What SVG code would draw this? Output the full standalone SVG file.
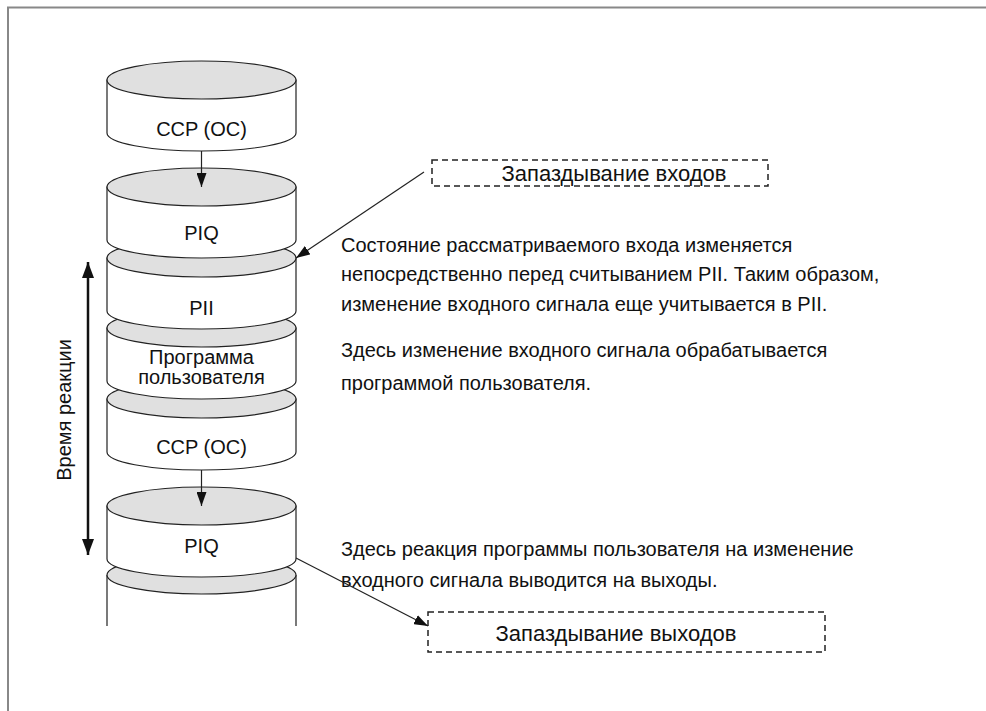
<svg xmlns="http://www.w3.org/2000/svg" width="986" height="711" viewBox="0 0 986 711">
<style>
text{font-family:"Liberation Sans",Arial,sans-serif;font-size:20px;fill:#111}
.c{text-anchor:middle}
.bx{font-size:22px;text-anchor:middle}
.body{fill:#fff;stroke:#222;stroke-width:1.2}
.top{fill:#e0e0e0;stroke:#222;stroke-width:1.2}
.side{fill:none;stroke:#222;stroke-width:1.2}
.dash{fill:none;stroke:#222;stroke-width:1.5;stroke-dasharray:6,4}
.ln{fill:none;stroke:#222;stroke-width:1.2}
</style>
<defs>
<marker id="ah" viewBox="0 0 14 10" refX="14" refY="5" markerWidth="14" markerHeight="10" markerUnits="userSpaceOnUse" orient="auto"><path d="M0,0 L14,5 L0,10 Z" fill="#111"/></marker>
<marker id="ahb" viewBox="0 0 16 12" refX="16" refY="6" markerWidth="16" markerHeight="12" markerUnits="userSpaceOnUse" orient="auto-start-reverse"><path d="M0,0 L16,6 L0,12 Z" fill="#111"/></marker>
</defs>
<rect width="986" height="711" fill="#fff"/>
<path d="M8,711 L8,7.5 L986,7.5" fill="none" stroke="#888" stroke-width="2"/>

<g id="cyl7">
<path class="side" d="M107,575 L107,626 M296,575 L296,626"/>
<ellipse class="top" cx="201.5" cy="575" rx="94.5" ry="19"/>
</g>
<g id="cyl6">
<path class="body" d="M107,506 L107,559 A94.5,18 0 0 0 296,559 L296,506 Z"/>
<ellipse class="top" cx="201.5" cy="506" rx="94.5" ry="19"/>
<text class="c" x="201.5" y="553">PIQ</text>
</g>
<g id="cyl5">
<path class="body" d="M107,399 L107,452 A94.5,18 0 0 0 296,452 L296,399 Z"/>
<ellipse class="top" cx="201.5" cy="399" rx="94.5" ry="19"/>
<text class="c" x="201.5" y="454">CCP (OC)</text>
</g>
<g id="cyl4">
<path class="body" d="M107,328 L107,381 A94.5,18 0 0 0 296,381 L296,328 Z"/>
<ellipse class="top" cx="201.5" cy="328" rx="94.5" ry="19"/>
<text class="c" x="201.5" y="364">Программа</text>
<text class="c" x="201.5" y="384">пользователя</text>
</g>
<g id="cyl3">
<path class="body" d="M107,258 L107,311 A94.5,18 0 0 0 296,311 L296,258 Z"/>
<ellipse class="top" cx="201.5" cy="258" rx="94.5" ry="19"/>
<text class="c" x="201.5" y="315">PII</text>
</g>
<g id="cyl2">
<path class="body" d="M107,187 L107,240 A94.5,18 0 0 0 296,240 L296,187 Z"/>
<ellipse class="top" cx="201.5" cy="187" rx="94.5" ry="19"/>
<text class="c" x="201.5" y="240">PIQ</text>
</g>
<g id="cyl1">
<path class="body" d="M107,80 L107,133 A94.5,18 0 0 0 296,133 L296,80 Z"/>
<ellipse class="top" cx="201.5" cy="80" rx="94.5" ry="19"/>
<text class="c" x="201.5" y="136">CCP (OC)</text>
</g>

<g id="box1">
<rect class="dash" x="432" y="160" width="336" height="26"/>
<text class="bx" x="614" y="181">Запаздывание входов</text>
</g>
<g id="box2">
<rect class="dash" x="428" y="612" width="397" height="40"/>
<text class="bx" x="616" y="641">Запаздывание выходов</text>
</g>

<g id="notes">
<text x="341" y="252">Состояние рассматриваемого входа изменяется</text>
<text x="341" y="281">непосредственно перед считыванием PII. Таким образом,</text>
<text x="341" y="311">изменение входного сигнала еще учитывается в PII.</text>
<text x="341" y="357">Здесь изменение входного сигнала обрабатывается</text>
<text x="341" y="390">программой пользователя.</text>
<text x="341" y="556">Здесь реакция программы пользователя на изменение</text>
<text x="341" y="587">входного сигнала выводится на выходы.</text>
</g>

<g id="reaction">
<text class="c" transform="translate(71,410) rotate(-90)">Время реакции</text>
</g>

<g id="connectors">
<line class="ln" x1="201.5" y1="151" x2="201.5" y2="187" marker-end="url(#ah)"/>
<line class="ln" x1="201.5" y1="470" x2="201.5" y2="506" marker-end="url(#ah)"/>
<line x1="88" y1="262" x2="88" y2="555" stroke="#111" stroke-width="2.5" marker-start="url(#ahb)" marker-end="url(#ahb)"/>
<line class="ln" x1="424" y1="172" x2="296" y2="258" marker-end="url(#ah)"/>
<line class="ln" x1="296" y1="558" x2="428" y2="626" marker-end="url(#ah)"/>
</g>
</svg>
